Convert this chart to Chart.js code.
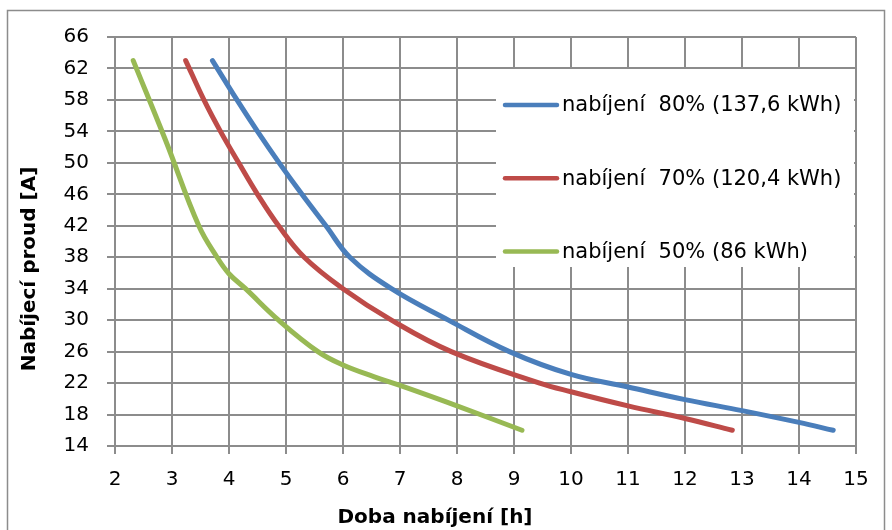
<!DOCTYPE html>
<html>
<head>
<meta charset="utf-8">
<style>
  html, body { margin: 0; padding: 0; background: #fff; }
  #wrap { position: relative; width: 892px; height: 530px; }
</style>
<script src="https://cdn.jsdelivr.net/npm/chart.js@4/dist/chart.umd.min.js"></script>
</head>
<body>
<div id="wrap"><canvas id="chargeChart" width="892" height="530"></canvas></div>
<script>
/* charging time vs charging current, three battery fill levels */

const xTicks = [2, 3, 4, 5, 6, 7, 8, 9, 10, 11, 12, 13, 14, 15];
const yTicks = [14, 18, 22, 26, 30, 34, 38, 42, 46, 50, 54, 58, 62, 66];

const seriesLabels = [
    "nabíjení  80% (137,6 kWh)",
    "nabíjení  70% (120,4 kWh)",
    "nabíjení  50% (86 kWh)"
];

const time80 = [3.71, 4.14, 4.50, 4.88, 5.28, 5.70, 6.12, 6.85, 7.85, 8.92, 10.0, 11.0, 12.0, 13.0, 14.0, 14.6];
const amps80 = [63, 58, 54, 50, 46, 42, 38, 34, 30, 26, 23.1, 21.5, 19.9, 18.5, 17.0, 16.0];

const time70 = [3.24, 3.56, 3.85, 4.17, 4.50, 4.87, 5.32, 6.0, 6.85, 7.9, 9.45, 10.0, 11.0, 12.0, 12.83];
const amps70 = [63, 58, 54, 50, 46, 42, 38, 34, 30, 26, 22, 20.9, 19.1, 17.5, 16.0];

const time50 = [2.32, 2.88, 3.47, 3.79, 4.0, 4.29, 4.87, 5.56, 6.0, 6.55, 7.0, 8.0, 9.14];
const amps50 = [63, 53, 42, 38, 35.9, 34, 30, 26, 24.3, 22.8, 21.7, 19.1, 16.0];

const colors = ["#4a7ebb", "#be4b48", "#98b954"];

const gridColor = "#8c8c8c";
const fontFamily = "'DejaVu Sans', sans-serif";

function toPoints(xs, ys) {
    return xs.map((x, i) => ({ x: x, y: ys[i] }));
}

function makeSet(label, xs, ys, color) {
    return {
        label: label,
        data: toPoints(xs, ys),
        showLine: true,
        borderColor: color,
        backgroundColor: color,
        borderWidth: 5,
        borderCapStyle: "round",
        borderJoinStyle: "round",
        pointRadius: 0,
        tension: 0.4
    };
}

// frame, titles and the in-plot legend box
const decorPlugin = {
    id: "decor",
    beforeDraw(chart) {
        const c = chart.ctx;
        c.save();
        c.fillStyle = "#fff";
        c.fillRect(0, 0, chart.width, chart.height);
        c.strokeStyle = "#8c8c8c";
        c.lineWidth = 1.5;
        c.strokeRect(7.5, 10.5, 877, 540);
        c.restore();
    },
    afterDraw(chart) {
        const c = chart.ctx;
        const area = chart.chartArea;
        c.save();

        // axis titles
        c.fillStyle = "#000";
        c.font = "bold 20px " + fontFamily;
        c.textAlign = "center";
        c.textBaseline = "middle";
        c.fillText("Doba nabíjení [h]", 435, 518);
        c.translate(30, 269);
        c.rotate(-Math.PI / 2);
        c.fillText("Nabíjecí proud [A]", 0, 0);
        c.setTransform(1, 0, 0, 1, 0, 0);

        // legend
        const boxL = area.right - 360, boxT = area.top + 32;
        c.fillStyle = "#fff";
        c.fillRect(boxL, boxT, 358, 198);
        c.font = "21px " + fontFamily;
        c.textAlign = "left";
        chart.data.datasets.forEach((ds, i) => {
            const y = boxT + 36 + i * 73.3;
            c.strokeStyle = ds.borderColor;
            c.lineWidth = 4.5;
            c.lineCap = "round";
            c.beginPath();
            c.moveTo(boxL + 9, y);
            c.lineTo(boxL + 61, y);
            c.stroke();
            c.fillStyle = "#000";
            c.fillText(ds.label, boxL + 66, y + 1);
        });
        c.restore();
    }
};

const chart = new Chart(document.getElementById("chargeChart"), {
    type: "scatter",
    data: {
        datasets: [
            makeSet(seriesLabels[0], time80, amps80, colors[0]),
            makeSet(seriesLabels[1], time70, amps70, colors[1]),
            makeSet(seriesLabels[2], time50, amps50, colors[2])
        ]
    },
    options: {
        responsive: false,
        animation: false,
        layout: { padding: { left: 7, top: 37, right: 36, bottom: 0 } },
        plugins: { legend: { display: false }, tooltip: { enabled: false } },
        scales: {
            x: {
                type: "linear",
                min: xTicks[0],
                max: xTicks[xTicks.length - 1],
                afterBuildTicks: s => { s.ticks = xTicks.map(v => ({ value: v })); },
                afterFit: s => { s.height = 84; },
                ticks: { color: "#000", font: { family: fontFamily, size: 20 }, padding: 14 },
                grid: { color: gridColor, lineWidth: 2, tickLength: 8 },
                border: { color: gridColor, width: 2 }
            },
            y: {
                type: "linear",
                min: yTicks[0],
                max: yTicks[yTicks.length - 1],
                afterBuildTicks: s => { s.ticks = yTicks.map(v => ({ value: v })); },
                afterFit: s => { s.width = 108; },
                ticks: { color: "#000", font: { family: fontFamily, size: 20 }, padding: 18 },
                grid: { color: gridColor, lineWidth: 2, tickLength: 8 },
                border: { color: gridColor, width: 2 }
            }
        }
    },
    plugins: [decorPlugin]
});
</script>
</body>
</html>
